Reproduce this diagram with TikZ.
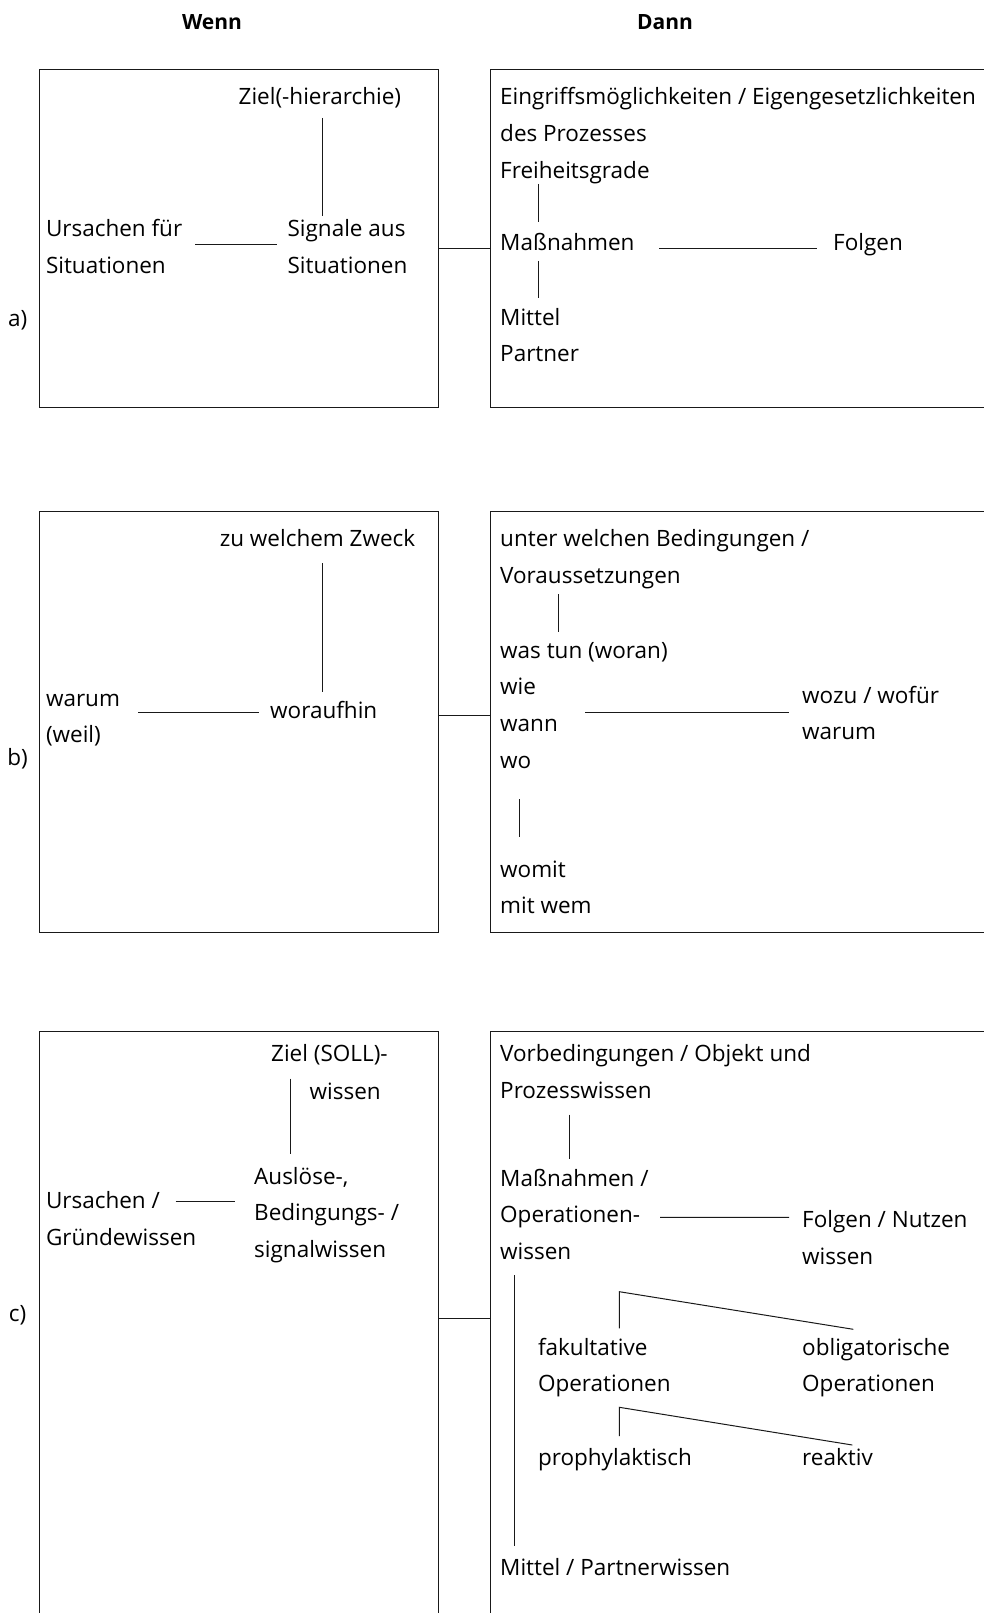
\documentclass[tikz,border=0pt]{standalone}
\usepackage{fontspec}
\setmainfont{Open Sans}
\begin{document}
\begin{tikzpicture}[x=1pt, y=-1pt,
  box/.style={draw=black!90, line width=1pt, inner sep=0pt, anchor=north west},
  txt/.style={anchor=base west, inner sep=0pt, align=left, font=\fontsize{22.5}{36.8}\selectfont},
  head/.style={anchor=base, inner sep=0pt, font=\fontsize{21}{24}\selectfont\bfseries},
  lab/.style={anchor=base, inner sep=0pt, font=\fontsize{22.5}{36.8}\selectfont},
  con/.style={draw=black!90, line width=1pt}]
\useasboundingbox (0,0) rectangle (984,1613);
\clip (0,0) rectangle (984,1613);

         \node [head] (wenn) at (212,30) {Wenn};
         \node [head] (dann) at (665,30) {Dann};

         \node [lab] (labA) at (17.6,326)  {a)};
         \node [lab] (labB) at (17.6,765)  {b)};
         \node [lab] (labC) at (17.6,1321) {c)};

         % a)
         \node [box, minimum width=399pt, minimum height=337.7pt] (wennA) at (39,69) {};
         \node [box, minimum width=600pt, minimum height=337.7pt] (dannA) at (490,69) {};
         \node [txt] (zielA) at (238.5,104.7) {Ziel(-hierarchie)};
         \node [txt] (ursA)  at (45.8,273.8)  {Ursachen für\\Situationen};
         \node [txt] (sigA)  at (287.4,273.8) {Signale aus\\Situationen};
         \node [txt] (eingA) at (500,178.3)   {Eingriffsmöglichkeiten / Eigengesetzlichkeiten\\des Prozesses\\Freiheitsgrade};
         \node [txt] (massA) at (500,251)     {Maßnahmen};
         \node [txt] (folgA) at (833,251)     {Folgen};
         \node [txt] (mittA) at (500,361.8)   {Mittel\\Partner};

         \draw [con] ([shift={(83.5,13.3)}]zielA.base west) -- ([shift={(34.6,-57.8)}]sigA.base west);
         \draw [con] ([shift={(149.2,-28.8)}]ursA.base west) -- ([shift={(-10.4,-28.8)}]sigA.base west);
         \draw [con] (wennA.east |- massA.mid) -- (dannA.west |- massA.mid);
         \draw [con] ([shift={(38,5.7)}]eingA.base west) -- ([shift={(38,-29)}]massA.base west);
         \draw [con] ([shift={(159,0)}]massA.mid west) -- ([shift={(-16,0)}]folgA.mid west);
         \draw [con] ([shift={(38,10)}]massA.base west) -- ([shift={(38,-63.8)}]mittA.base west);

         % b)
         \node [box, minimum width=399pt, minimum height=421pt] (wennB) at (39,510.7) {};
         \node [box, minimum width=600pt, minimum height=421pt] (dannB) at (490,510.7) {};
         \node [txt] (zweckB)  at (219.6,546.3) {zu welchem Zweck};
         \node [txt] (warumB)  at (45.8,742.8)  {warum\\(weil)};
         \node [txt] (woraufB) at (270,718.5)   {woraufhin};
         \node [txt] (unterB)  at (500,583.1)   {unter welchen Bedingungen /\\Voraussetzungen};
         \node [txt] (wasB)    at (500,768.4)   {was tun (woran)\\wie\\wann\\wo};
         \node [txt] (wozuB)   at (802,739.8)   {wozu / wofür\\warum};
         \node [txt] (womitB)  at (500,913.8)   {womit\\mit wem};

         \draw [con] ([shift={(102.4,16.7)}]zweckB.base west) -- ([shift={(52,-26.8)}]woraufB.base west);
         \draw [con] ([shift={(92.2,-30.3)}]warumB.base west) -- ([shift={(-11.5,-6)}]woraufB.base west);
         \draw [con] (wennB.east |- woraufB.mid) -- (dannB.west |- woraufB.mid);
         \draw [con] ([shift={(58.5,10.9)}]unterB.base west) -- ([shift={(58.5,-136.7)}]wasB.base west);
         \draw [con] ([shift={(85,-55.9)}]wasB.base west) -- ([shift={(-13,-27.3)}]wozuB.base west);
         \draw [con] ([shift={(19,30.6)}]wasB.base west) -- ([shift={(19,-76.8)}]womitB.base west);

         % c)
         \node [box, minimum width=399pt, minimum height=650pt] (wennC) at (39,1030.6) {};
         \node [box, minimum width=600pt, minimum height=650pt] (dannC) at (490,1030.6) {};
         \node [txt] (zielC)  at (271,1061.3)  {Ziel (SOLL)-};
         \node [txt] (wissC)  at (309.4,1099)  {wissen};
         \node [txt] (auslC)  at (254,1257.6)  {Auslöse-,\\Bedingungs- /\\signalwissen};
         \node [txt] (ursC)   at (45.8,1245.6) {Ursachen /\\Gründewissen};
         \node [txt] (vorbC)  at (500,1098.1)  {Vorbedingungen / Objekt und\\Prozesswissen};
         \node [txt] (massC)  at (500,1259.6)  {Maßnahmen /\\Operationen-\\wissen};
         \node [txt] (folgC)  at (802,1264.5)  {Folgen / Nutzen\\wissen};
         \node [txt] (fakC)   at (537.8,1391.8) {fakultative\\Operationen};
         \node [txt] (oblC)   at (802,1391.8)   {obligatorische\\Operationen};
         \node [txt] (prophC) at (537.8,1465)  {prophylaktisch};
         \node [txt] (reakC)  at (802,1465)    {reaktiv};
         \node [txt] (mittC)  at (500,1575.3)  {Mittel / Partnerwissen};

         \draw [con] ([shift={(19,17.3)}]zielC.base west) -- ([shift={(36,-103.3)}]auslC.base west);
         \draw [con] ([shift={(129.9,-44.1)}]ursC.base west) -- ([shift={(-18.7,-56.1)}]auslC.base west);
         \draw [con] (wennC.east |- labC.mid) -- (dannC.west |- labC.mid);
         \draw [con] ([shift={(69,16.5)}]vorbC.base west) -- ([shift={(69,-100.6)}]massC.base west);
         \draw [con] ([shift={(160,-42.2)}]massC.base west) -- ([shift={(-13,-47.1)}]folgC.base west);
         \draw [con] ([shift={(14.5,15.7)}]massC.base west) -- ([shift={(14.5,-29.6)}]mittC.base west);
         \draw [con] ([shift={(81.6,-63.5)}]fakC.base west) -- ([shift={(81.6,-100.1)}]fakC.base west) -- ([shift={(51.3,-62.5)}]oblC.base west);
         \draw [con] ([shift={(81.6,-29)}]prophC.base west) -- ([shift={(81.6,-57.7)}]prophC.base west) -- ([shift={(50.3,-20)}]reakC.base west);

\end{tikzpicture}
\end{document}
